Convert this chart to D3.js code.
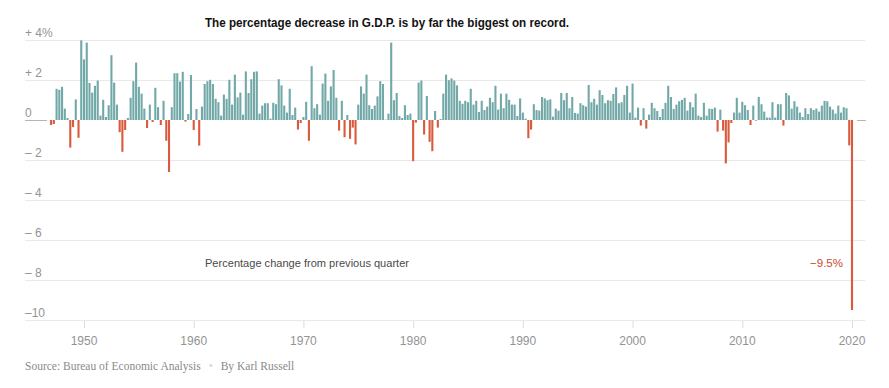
<!DOCTYPE html>
<html>
<head>
<meta charset="utf-8">
<script src="https://cdn.jsdelivr.net/npm/d3@7"></script>
<style>
  body { margin: 0; background: #fff; }
  svg { display: block; }
</style>
</head>
<body>
<script>

// quarterly change in real G.D.P., percent (not annualized), 1947 Q2 - 2020 Q2
var startYear = 1947, startQuarter = 2;
var gdpChange = [
  -0.25, -0.20, 1.56,
  1.51, 1.66, 0.57, 0.10,
  -1.38, -0.35, 1.03, -0.89,
  3.98, 3.03, 3.87, 1.85,
  1.37, 1.71, 1.97, 0.22,
  1.01, 0.15, 0.74, 3.24,
  1.87, 0.77, -0.61, -1.59,
  -0.50, 0.10, 1.11, 1.94,
  2.87, 1.66, 1.32, 0.57,
  -0.40, 0.77, -0.10, 1.61,
  0.64, -0.25, 0.96, -1.04,
  -2.60, 0.64, 2.34, 2.34,
  1.92, 2.41, -0.08, 0.30,
  2.25, -0.50, 0.55, -1.28,
  0.67, 1.80, 1.94, 2.01,
  1.80, 1.06, 0.89, 0.22,
  1.27, 1.06, 2.01, 0.77,
  2.27, 1.13, 1.37, 0.27,
  2.43, 1.35, 2.04, 2.41,
  2.43, 0.32, 0.72, 0.84,
  0.84, 0.07, 0.86, 0.79,
  2.04, 1.73, 0.72, 0.37,
  1.56, 0.25, 0.62, -0.48,
  -0.15, 0.15, 0.91, -1.04,
  2.69, 0.59, 0.79, 0.27,
  1.82, 2.32, 0.96, 1.68,
  2.50, 1.11, -0.53, 0.96,
  -0.86, 0.25, -0.94, -0.38,
  -1.22, 0.77, 1.68, 1.32,
  2.27, 0.74, 0.55, 0.72,
  1.18, 1.94, 1.80, 0.02,
  0.32, 3.87, 0.99, 1.35,
  0.20, 0.10, 0.74, 0.25,
  0.32, -2.06, -0.13, 1.87,
  1.97, -0.73, 1.20, -1.09,
  -1.56, 0.45, -0.38, 0.05,
  1.32, 2.27, 1.99, 2.08,
  1.97, 1.73, 0.96, 0.81,
  0.96, 0.89, 1.56, 0.77,
  0.96, 0.40, 0.96, 0.50,
  0.67, 1.11, 0.89, 1.71,
  0.52, 1.32, 0.59, 1.32,
  1.01, 0.77, 0.77, 0.20,
  1.08, 0.37, 0.07, -0.91,
  -0.48, 0.79, 0.50, 0.47,
  1.15, 1.08, 0.99, 1.03,
  0.17, 0.57, 0.47, 1.35,
  0.99, 1.35, 0.59, 1.15,
  0.35, 0.32, 0.84, 0.74,
  0.67, 1.75, 0.89, 1.06,
  0.77, 1.49, 1.25, 0.84,
  0.99, 0.96, 1.30, 1.63,
  0.84, 0.89, 1.25, 1.71,
  0.37, 1.82, 0.12, 0.62,
  -0.28, 0.59, -0.43, 0.27,
  0.86, 0.59, 0.45, 0.15,
  0.55, 0.86, 1.71, 1.15,
  0.55, 0.77, 0.94, 1.01,
  1.11, 0.47, 0.89, 0.64,
  1.32, 0.22, 0.15, 0.86,
  0.22, 0.57, 0.55, 0.62,
  -0.58, 0.52, -0.53, -2.17,
  -1.12, -0.15, 0.37, 1.11,
  0.37, 0.91, 0.74, 0.50,
  -0.25, 0.72, -0.03, 1.15,
  0.79, 0.42, 0.12, 0.12,
  0.89, 0.12, 0.79, 0.79,
  -0.28, 1.35, 1.23, 0.57,
  0.94, 0.67, 0.37, 0.15,
  0.59, 0.30, 0.59, 0.50,
  0.57, 0.42, 0.72, 0.96,
  0.94, 0.67, 0.52, 0.32,
  0.72, 0.37, 0.64, 0.59,
  -1.27, -9.50
];

var yTicks = [4, 2, 0, -2, -4, -6, -8, -10];
var yTickLabels = ["+ 4%", "+ 2", "0", "\u2013 2", "\u2013 4", "\u2013 6", "\u2013 8", "\u201310"];
var xTicks = [1950, 1960, 1970, 1980, 1990, 2000, 2010, 2020];

var width = 889, height = 388;

var svg = d3.select("body").append("svg")
    .attr("width", width).attr("height", height);

var x = d3.scaleLinear().domain([1950, 2020]).range([84, 852]);
var y = d3.scaleLinear().domain([-10, 4]).range([320, 40]);

var bars = gdpChange.map(function (v, i) {
  var q = startQuarter - 1 + i;
  return { year: startYear + Math.floor(q / 4), quarter: q % 4 + 1, value: v };
});
// bar centre for a quarter
function xq(d) { return x(d.year + (d.quarter - 2) / 4); }

var gridLeft = 25, gridRight = 865;

// gridlines
svg.append("g").selectAll("line")
    .data(yTicks.filter(function (t) { return t !== 0; }))
    .enter().append("line")
    .attr("x1", gridLeft).attr("x2", gridRight)
    .attr("y1", function (d) { return y(d) + 0.5; })
    .attr("y2", function (d) { return y(d) + 0.5; })
    .attr("stroke", "#e9e9e9")
    .attr("stroke-width", 1);

// zero line stubs on both sides
svg.append("line")
    .attr("x1", gridLeft).attr("x2", 47)
    .attr("y1", y(0) + 0.5).attr("y2", y(0) + 0.5)
    .attr("stroke", "#b5b5b5");
svg.append("line")
    .attr("x1", 857).attr("x2", 866)
    .attr("y1", y(0) + 0.5).attr("y2", y(0) + 0.5)
    .attr("stroke", "#b5b5b5");

// y labels
svg.append("g").selectAll("text")
    .data(yTicks)
    .enter().append("text")
    .attr("x", gridLeft)
    .attr("y", function (d) { return y(d) - 3; })
    .attr("font-family", "'Liberation Sans', Arial, sans-serif")
    .attr("font-size", "12px")
    .attr("fill", "#939393")
    .text(function (d, i) { return yTickLabels[i]; });

// x ticks
var xg = svg.append("g");
xg.selectAll("line")
    .data(xTicks)
    .enter().append("line")
    .attr("x1", function (d) { return x(d) + 0.5; })
    .attr("x2", function (d) { return x(d) + 0.5; })
    .attr("y1", y(-10) + 1).attr("y2", y(-10) + 8)
    .attr("stroke", "#dcdcdc");
xg.selectAll("text")
    .data(xTicks)
    .enter().append("text")
    .attr("x", function (d) { return x(d); })
    .attr("y", 345)
    .attr("text-anchor", "middle")
    .attr("font-family", "'Liberation Sans', Arial, sans-serif")
    .attr("font-size", "12px")
    .attr("fill", "#939393")
    .text(function (d) { return d; });

// bars
svg.append("g").selectAll("rect")
    .data(bars)
    .enter().append("rect")
    .attr("x", function (d) { return xq(d) - 1.05; })
    .attr("width", 2.1)
    .attr("y", function (d) { return y(Math.max(0, d.value)); })
    .attr("height", function (d) { return Math.abs(y(d.value) - y(0)); })
    .attr("fill", function (d) { return d.value < 0 ? "#d95a3c" : "#72a8a8"; });

// title
svg.append("text")
    .attr("x", 387).attr("y", 27)
    .attr("text-anchor", "middle")
    .attr("font-family", "'Liberation Sans', Arial, sans-serif")
    .attr("font-weight", "bold")
    .attr("font-size", "13px")
    .attr("fill", "#121212")
    .attr("textLength", 364)
    .attr("lengthAdjust", "spacingAndGlyphs")
    .text("The percentage decrease in G.D.P. is by far the biggest on record.");

// annotations
svg.append("text")
    .attr("x", 205).attr("y", 267)
    .attr("font-family", "'Liberation Sans', Arial, sans-serif")
    .attr("font-size", "11.5px")
    .attr("fill", "#4a4a4a")
    .attr("textLength", 204)
    .attr("lengthAdjust", "spacingAndGlyphs")
    .text("Percentage change from previous quarter");

var last = bars[bars.length - 1];
svg.append("text")
    .attr("x", xq(last) - 9).attr("y", 267)
    .attr("text-anchor", "end")
    .attr("font-family", "'Liberation Sans', Arial, sans-serif")
    .attr("font-size", "11.5px")
    .attr("fill", "#c9482c")
    .text("\u2212" + Math.abs(last.value).toFixed(1) + "%");

// credit line
var credit = svg.append("text")
    .attr("x", gridLeft).attr("y", 370)
    .attr("font-family", "'Liberation Serif', 'DejaVu Serif', serif")
    .attr("font-size", "11.5px")
    .attr("fill", "#8a8a8a");
credit.append("tspan").text("Source: Bureau of Economic Analysis");
credit.append("tspan").attr("dx", 8).attr("fill", "#d6d6d6").text("\u2022");
credit.append("tspan").attr("dx", 8).text("By Karl Russell");

</script>
</body>
</html>
